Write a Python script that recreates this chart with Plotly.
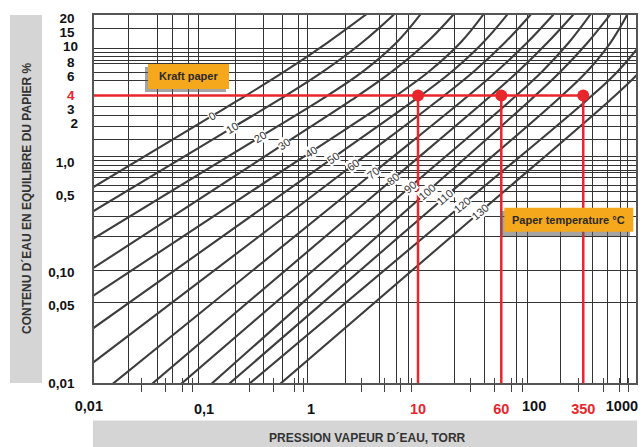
import numpy as np
import plotly.graph_objects as go

# ---------------- data ----------------
temps = [0, 10, 20, 30, 40, 50, 60, 70, 80, 90, 100, 110, 120, 130]

# water vapour pressure (torr) / paper water content (%) along each isotherm
p_0c = [0.00861, 0.1189, 0.211, 0.562, 1.396, 3.22, 3.93]
w_0c = [0.567, 2.608, 3.64, 6.56, 11.86, 21.4, 24.8]
p_10c = [0.00861, 0.1827, 0.499, 1.292, 2.944, 5.89, 6.88]
w_10c = [0.344, 2.031, 3.64, 6.56, 11.86, 21.4, 24.8]
p_20c = [0.00861, 0.3336, 1.232, 3.042, 6.20, 10.44, 11.60]
w_20c = [0.194, 1.684, 3.64, 6.56, 11.86, 21.4, 24.8]
p_30c = [0.00861, 0.5594, 2.401, 5.70, 11.83, 21.24, 24.1]
w_30c = [0.105, 1.455, 3.64, 6.56, 11.86, 21.4, 24.8]
p_40c = [0.00861, 1.0, 5.45, 12.59, 24.64, 40.5, 44.8]
w_40c = [0.0589, 1.232, 3.64, 6.56, 11.86, 21.4, 24.8]
p_50c = [0.00861, 1.605, 9.315, 20.61, 40.0, 67.9, 76.1]
w_50c = [0.0299, 1.087, 3.64, 6.56, 11.86, 21.4, 24.8]
p_60c = [0.00861, 2.469, 15.54, 33.02, 63.9, 112.1, 127.3]
w_60c = [0.01459, 0.9394, 3.64, 6.56, 11.86, 21.4, 24.8]
p_70c = [0.0119, 3.797, 26.39, 53.9, 103.1, 182.7, 208.7]
w_70c = [0.00864, 0.7953, 3.64, 6.56, 11.86, 21.4, 24.8]
p_80c = [0.02797, 5.841, 43.1, 85.6, 159.8, 280.3, 319.7]
w_80c = [0.00864, 0.7018, 3.64, 6.56, 11.86, 21.4, 24.8]
p_90c = [0.05243, 8.418, 74.3, 143.9, 253.3, 405.0, 449.1]
w_90c = [0.00864, 0.5938, 3.64, 6.56, 11.86, 21.4, 24.8]
p_100c = [0.1011, 12.14, 112.3, 214.2, 379.7, 621.6, 695.0]
w_100c = [0.00864, 0.5353, 3.64, 6.56, 11.86, 21.4, 24.8]
p_110c = [0.1470, 17.88, 199.5, 377.3, 622.9, 898.3, 966.0]
w_110c = [0.00864, 0.4824, 3.64, 6.56, 11.86, 21.4, 24.8]
p_120c = [0.2256, 25.77, 379.7, 730.4, 1219.0, 1757.0]
w_120c = [0.00864, 0.4082, 3.64, 6.56, 11.86, 21.4]
p_130c = [0.4415, 37.97, 625.6, 1183.0, 1941.0]
w_130c = [0.00864, 0.3528, 3.64, 6.56, 11.86]

curves = [
    (p_0c, w_0c), (p_10c, w_10c), (p_20c, w_20c), (p_30c, w_30c),
    (p_40c, w_40c), (p_50c, w_50c), (p_60c, w_60c), (p_70c, w_70c),
    (p_80c, w_80c), (p_90c, w_90c), (p_100c, w_100c), (p_110c, w_110c),
    (p_120c, w_120c), (p_130c, w_130c),
]

# isotherm label positions (torr, %)
label_p = [0.1189, 0.1827, 0.3336, 0.5594, 1.0, 1.605, 2.469, 3.797, 5.841, 8.418, 12.14, 17.88, 25.77, 37.97]
label_w = [2.608, 2.031, 1.684, 1.455, 1.232, 1.087, 0.9394, 0.7953, 0.7018, 0.5938, 0.5353, 0.4824, 0.4082, 0.3528]
label_angle = [-31, -31, -31, -33, -33, -35, -37, -39, -40, -40, -41, -41, -40, -40]

# example: kraft paper at 4 %
kraft_moisture = 4
kraft_pressures = [10, 60, 350]

# axes (tick labels; red ones highlight the example)
x_mid_vals = [0.1, 1, 10, 60, 350]
x_mid_text = ["0,1", "1", "10", "60", "350"]
x_mid_red = [False, False, True, True, True]
x_edge_vals = [0.01, 1000]
x_edge_text = ["0,01", "1000"]
x_right_vals = [100]
x_right_text = ["100"]

y_main_vals = [0.01, 0.05, 0.1, 0.5, 1, 3, 4, 6, 8, 15, 20]
y_main_text = ["0,01", "0,05", "0,10", "0,5", "1,0", "3", "4", "6", "8", "15", "20"]
y_main_red = [False, False, False, False, False, False, True, False, False, False, False]
y_up_vals = [2, 10]
y_up_text = ["2", "10"]

# grid lines and short ticks, as drawn on the chart
grid_x = [0.0195, 0.0364, 0.0513, 0.0709, 0.0879, 0.195, 0.356, 0.547, 0.772, 0.937,
          2.079, 4.32, 6.23, 8.06, 21.7, 41.4, 82.4, 104.4, 212.4, 422.9, 584.0, 772.6, 898.3]
grid_y = [0.053, 0.1053, 0.2096, 0.318, 0.4345, 0.546, 0.619, 0.717, 0.795, 0.846, 0.920,
          1.021, 1.110, 1.582, 2.074, 2.608, 3.146, 5.41, 6.39, 7.71, 8.20, 8.92, 9.69, 10.53, 15.98]
tick_marks_x = [0.0258, 0.0441, 0.0623, 0.0789, 0.2634, 0.4415, 0.6938, 0.8418, 2.934, 4.811,
                6.787, 8.603, 30.62, 51.3, 74.0, 93.8, 312.9, 535.8, 755.9, 917.6]

# ---------------- styling ----------------
FONT = "Liberation Sans, Arial, sans-serif"
RED = "#e8262b"
CURVE = "#3d3d3d"
GRID = "#333333"
ORANGE = "#f6a81c"
XRANGE = [-2.028, 3.037]
YRANGE = [-2.0, 1.33]
XFONT = dict(family=FONT, size=14.5, color="#111")
YFONT = dict(family=FONT, size=13.5, color="#111")

fig = go.Figure()

for (px, wy) in curves:
    fig.add_trace(go.Scatter(x=px, y=wy, mode="lines", line=dict(color=CURVE, width=2.1, shape="spline"),
                             hoverinfo="skip", showlegend=False))

# red guide lines
fig.add_trace(go.Scatter(x=[0.009, max(kraft_pressures)], y=[kraft_moisture, kraft_moisture], mode="lines",
                         line=dict(color=RED, width=2.5), hoverinfo="skip", showlegend=False))
for xv in kraft_pressures:
    fig.add_trace(go.Scatter(x=[xv, xv], y=[0.009, kraft_moisture], mode="lines",
                             line=dict(color=RED, width=2.5), hoverinfo="skip", showlegend=False))
fig.add_trace(go.Scatter(x=kraft_pressures, y=[kraft_moisture] * len(kraft_pressures), mode="markers",
                         marker=dict(color=RED, size=12), hoverinfo="skip", showlegend=False))

# invisible anchors so the overlay axes (ticks / extra labels) are drawn
for ax in ["x2", "x3", "x4", "x5"]:
    fig.add_trace(go.Scatter(x=[1], y=[1], xaxis=ax, mode="markers",
                             marker=dict(opacity=0), hoverinfo="skip", showlegend=False))
fig.add_trace(go.Scatter(x=[1], y=[1], yaxis="y2", mode="markers",
                         marker=dict(opacity=0), hoverinfo="skip", showlegend=False))


def fmt(t, red=False):
    if red:
        return "<span style='color:%s'><b>%s</b></span>" % (RED, t)
    return "<b>%s</b>" % t


annotations = []
for T, lp, lw, ang in zip(temps, label_p, label_w, label_angle):
    annotations.append(dict(x=np.log10(lp), y=np.log10(lw), xref="x", yref="y", text=str(T),
                            showarrow=False, textangle=ang, bgcolor="white", borderpad=0,
                            xanchor="center", yanchor="middle",
                            font=dict(family=FONT, size=11, color="#333")))

# axis titles
annotations.append(dict(x=-0.1227, y=0.5014, xref="paper", yref="paper",
                        text="<b>CONTENU D´EAU EN EQUILIBRE DU PAPIER %</b>",
                        textangle=-90, showarrow=False, xanchor="center", yanchor="middle",
                        font=dict(family=FONT, size=12, color="#333")))
annotations.append(dict(x=0.5037, y=-0.1495, xref="paper", yref="paper", text="<b>PRESSION VAPEUR D´EAU, TORR</b>",
                        showarrow=False, xanchor="center", yanchor="middle",
                        font=dict(family=FONT, size=12, color="#333")))
# box labels
annotations.append(dict(x=0.1744, y=0.8329, xref="paper", yref="paper", text="<b>Kraft paper</b>",
                        showarrow=False, xanchor="center", yanchor="middle",
                        font=dict(family=FONT, size=11, color="#2a2a2a")))
annotations.append(dict(x=0.876, y=0.4437, xref="paper", yref="paper", text="<b>Paper temperature °C</b>",
                        showarrow=False, xanchor="center", yanchor="middle",
                        font=dict(family=FONT, size=11, color="#2a2a2a")))

shapes = [
    # grey title boxes
    dict(type="rect", xref="paper", yref="paper", x0=-0.155, x1=-0.0959, y0=0, y1=1,
         fillcolor="#d5d5d5", line=dict(width=0), layer="below"),
    dict(type="rect", xref="paper", yref="paper", x0=-0.002, x1=1.002, y0=-0.1739, y1=-0.1019,
         fillcolor="#d5d5d5", line=dict(width=0), layer="below"),
    # kraft paper box (shadow + box)
    dict(type="rect", xref="paper", yref="paper", x0=0.0941, x1=0.2435, y0=0.7908, y1=0.8587,
         fillcolor="rgba(90,90,90,0.55)", line=dict(width=0), layer="above"),
    dict(type="rect", xref="paper", yref="paper", x0=0.0996, x1=0.2491, y0=0.7989, y1=0.8668,
         fillcolor=ORANGE, line=dict(width=0), layer="above"),
    # paper temperature box (shadow + box)
    dict(type="rect", xref="paper", yref="paper", x0=0.750, x1=0.989, y0=0.3995, y1=0.4674,
         fillcolor="rgba(90,90,90,0.55)", line=dict(width=0), layer="above"),
    dict(type="rect", xref="paper", yref="paper", x0=0.757, x1=0.995, y0=0.4111, y1=0.4764,
         fillcolor=ORANGE, line=dict(width=0), layer="above"),
]

overlay_x = dict(type="log", range=XRANGE, overlaying="x", anchor="y", side="bottom", tickmode="array",
                 showgrid=False, zeroline=False, showline=False, automargin=False)

fig.update_layout(
    width=643, height=447,
    margin=dict(l=94, r=7, t=15, b=64, autoexpand=False),
    paper_bgcolor="white", plot_bgcolor="white",
    showlegend=False,
    font=dict(family=FONT),
    xaxis=dict(type="log", range=XRANGE, tickmode="array", tickvals=x_mid_vals,
               ticktext=[fmt(t, r) for t, r in zip(x_mid_text, x_mid_red)],
               ticks="", showgrid=False, zeroline=False, showline=True, linecolor="#555", linewidth=1.5,
               mirror=True, tickfont=XFONT, ticklabelstandoff=12,
               ticklabeloverflow="allow", automargin=False,
               minor=dict(tickmode="array", tickvals=grid_x, showgrid=True, gridcolor=GRID, gridwidth=1, ticks="")),
    xaxis2=dict(overlay_x, tickvals=tick_marks_x, ticks="outside", ticklen=8, tickwidth=1, tickcolor="#444",
                showticklabels=False),
    xaxis3=dict(overlay_x, tickvals=tick_marks_x, ticks="inside", ticklen=5, tickwidth=1, tickcolor="#444",
                showticklabels=False),
    xaxis4=dict(overlay_x, tickvals=x_edge_vals, ticktext=[fmt(t) for t in x_edge_text], ticks="",
                ticklabelposition="outside left", ticklabelshift=6, ticklabelstandoff=12,
                ticklabeloverflow="allow", tickfont=XFONT),
    xaxis5=dict(overlay_x, tickvals=x_right_vals, ticktext=[fmt(t) for t in x_right_text], ticks="",
                ticklabelposition="outside right", ticklabelshift=-3, ticklabelstandoff=12,
                ticklabeloverflow="allow", tickfont=XFONT),
    yaxis=dict(type="log", range=YRANGE, tickmode="array", tickvals=y_main_vals,
               ticktext=[fmt(t, r) for t, r in zip(y_main_text, y_main_red)],
               ticks="", showgrid=False, zeroline=False, showline=True, linecolor="#555", linewidth=1.5,
               mirror=True, tickfont=YFONT, ticklabelstandoff=15,
               ticklabeloverflow="allow", automargin=False,
               minor=dict(tickmode="array", tickvals=grid_y, showgrid=True, gridcolor=GRID, gridwidth=1, ticks="")),
    yaxis2=dict(type="log", range=YRANGE, overlaying="y", anchor="x", side="left", tickmode="array",
                tickvals=y_up_vals, ticktext=[fmt(t) for t in y_up_text], ticks="", tickfont=YFONT,
                ticklabelstandoff=15, ticklabelshift=-5, ticklabeloverflow="allow",
                showgrid=False, zeroline=False, showline=False, automargin=False),
    annotations=annotations,
    shapes=shapes,
)

fig.write_html("out.html", config={"displayModeBar": False},
               post_script="document.body.style.margin='0px';")
